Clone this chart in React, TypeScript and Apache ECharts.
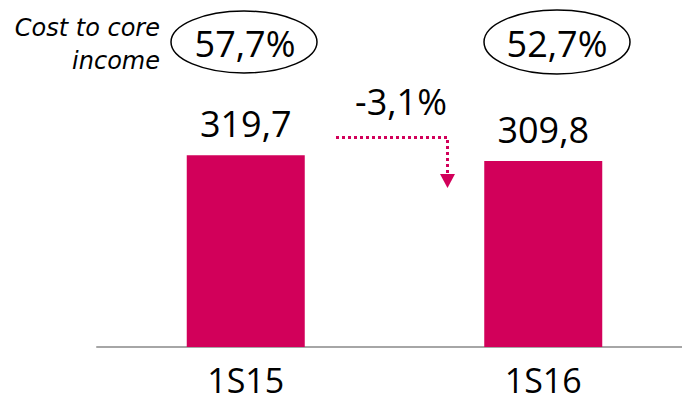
import React, { useEffect, useRef } from "react";
import * as echarts from "echarts";

const categories = ["1S15", "1S16"];
const costValues = [319.7, 309.8];
const ratioLabels = ["57,7%", "52,7%"];
const changeLabel = "-3,1%";
const ratioTitle = ["Cost to core", "income"];

const MAGENTA = "#D2005A";
const FONT = "'Open Sans', 'Noto Sans', sans-serif";
const ITALIC_FONT = "'DejaVu Sans', 'Open Sans', sans-serif";

export default function App() {
  const ref = useRef<HTMLDivElement>(null);
  useEffect(() => {
    if (!ref.current) return;
    const chart = echarts.init(ref.current, undefined, { renderer: "svg" });
    chart.setOption({
      animation: false,
      grid: { left: 97, width: 595, top: 107, bottom: 58, outerBoundsMode: "none", containLabel: false },
      xAxis: {
        type: "category",
        data: categories,
        axisLine: { lineStyle: { color: "#A6A6A6", width: 2 } },
        axisTick: { show: false },
        axisLabel: { color: "#000", fontSize: 34, lineHeight: 34, fontFamily: FONT, margin: 16 },
      },
      yAxis: { type: "value", min: 0, max: 400, show: false, splitLine: { show: false } },
      series: [
        {
          type: "bar",
          data: costValues,
          barWidth: 118,
          itemStyle: { color: MAGENTA },
          label: {
            show: true,
            position: "top",
            distance: 14,
            color: "#000",
            fontSize: 36,
            fontFamily: FONT,
            formatter: (p: any) => String(p.value.toFixed(1)).replace(".", ","),
          },
        },
      ],
      graphic: [
        {
          type: "text",
          x: 160,
          y: 44,
          style: {
            text: ratioTitle.join("\n"),
            align: "right",
            verticalAlign: "middle",
            fontSize: 24,
            lineHeight: 33,
            fontStyle: "italic",
            fontFamily: ITALIC_FONT,
            fill: "#000",
          },
        },
        {
          type: "ellipse",
          shape: { cx: 244, cy: 42, rx: 73, ry: 31 },
          style: { fill: "none", stroke: "#000", lineWidth: 1.5 },
        },
        {
          type: "text",
          x: 245,
          y: 43,
          style: {
            text: ratioLabels[0],
            align: "center",
            verticalAlign: "middle",
            fontSize: 36,
            fontFamily: FONT,
            fill: "#000",
          },
        },
        {
          type: "ellipse",
          shape: { cx: 557, cy: 42, rx: 73, ry: 32 },
          style: { fill: "none", stroke: "#000", lineWidth: 1.5 },
        },
        {
          type: "text",
          x: 557,
          y: 43,
          style: {
            text: ratioLabels[1],
            align: "center",
            verticalAlign: "middle",
            fontSize: 36,
            fontFamily: FONT,
            fill: "#000",
          },
        },
        {
          type: "text",
          x: 401,
          y: 101,
          style: {
            text: changeLabel,
            align: "center",
            verticalAlign: "middle",
            fontSize: 36,
            fontFamily: FONT,
            fill: "#000",
          },
        },
        {
          type: "polyline",
          shape: { points: [[336, 137.5], [447.5, 137.5], [447.5, 175]] },
          style: { stroke: MAGENTA, lineWidth: 3, lineDash: [3, 3], fill: "none" },
        },
        {
          type: "polygon",
          shape: { points: [[440, 174], [455, 174], [447.5, 188]] },
          style: { fill: MAGENTA },
        },
      ],
    });
    return () => chart.dispose();
  }, []);
  return (
    <div
      ref={ref}
      style={{ position: "absolute", left: 0, top: 0, width: 682, height: 405, background: "#fff" }}
    />
  );
}
